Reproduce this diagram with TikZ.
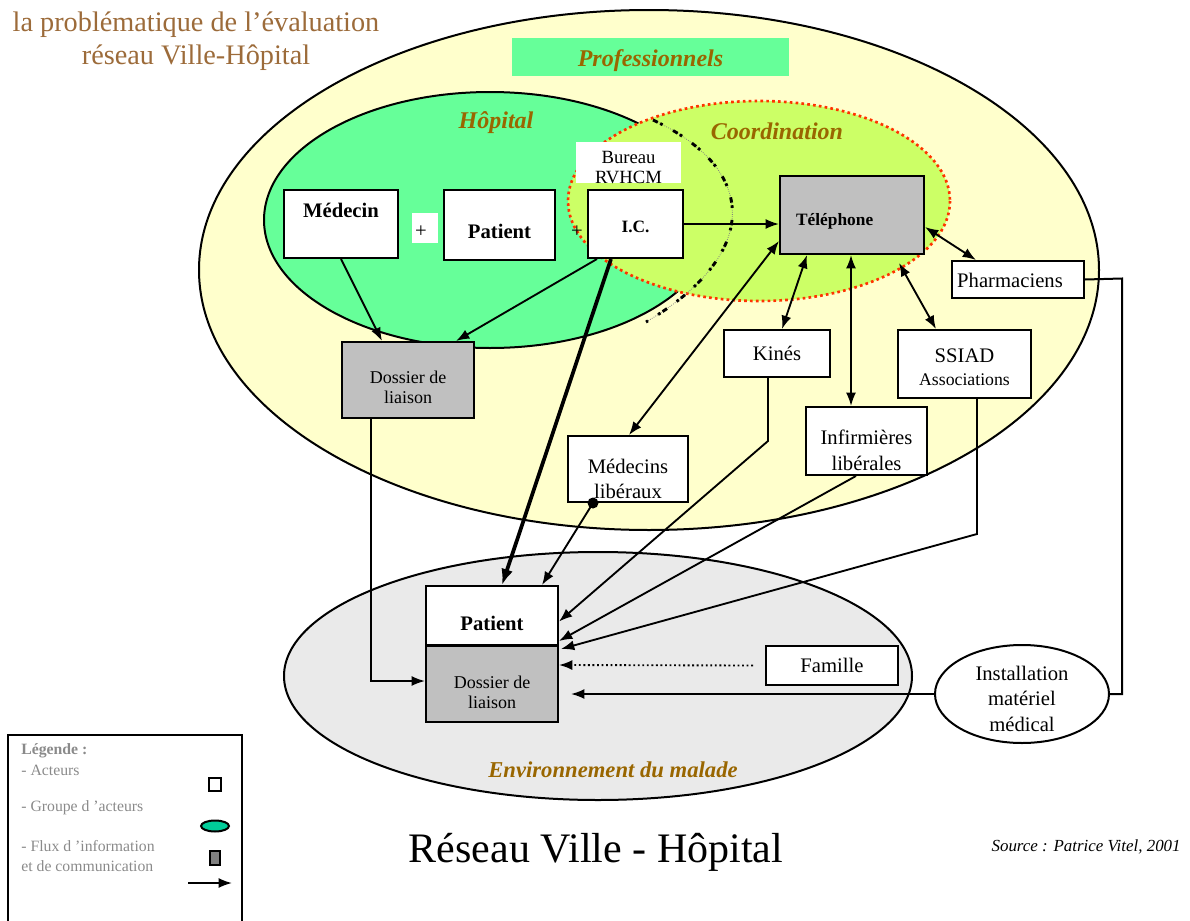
\documentclass[tikz,border=0pt]{standalone}
\usepackage{fontspec}
\setmainfont{Liberation Serif}
\usetikzlibrary{arrows.meta,calc,shapes.geometric}

\definecolor{profyellow}{HTML}{FFFFCC}
\definecolor{hopgreen}{HTML}{66FF99}
\definecolor{coordgreen}{HTML}{CCFF66}
\definecolor{envgray}{HTML}{EAEAEA}
\definecolor{boxgray}{HTML}{C0C0C0}
\definecolor{labelbrown}{HTML}{996600}
\definecolor{titlebrown}{HTML}{9C6B3A}
\definecolor{legendgray}{HTML}{8A8A8A}
\definecolor{legendgreen}{HTML}{00CC99}
\definecolor{dotred}{HTML}{FF3300}

\newcommand{\fs}[2]{\fontsize{#1}{#2}\selectfont}

\begin{document}
\begin{tikzpicture}[x=0.75pt,y=-0.75pt,
  >={Latex[length=10pt,width=7.5pt]},
  line width=1.4pt,
  box/.style 2 args={draw, line width=1.5pt, fill=white,
    minimum width=#1*0.75pt, minimum height=#2*0.75pt, inner sep=0pt},
  txt/.style={align=center, font=\fs{15.5}{19}},
  grouplabel/.style={font=\bfseries\itshape\fs{18}{18}, text=labelbrown},
  flow/.style={->, line width=1.4pt},
  both/.style={<->, line width=1.4pt},
  legendtxt/.style={anchor=west, text=legendgray, font=\fs{11.8}{14.5}, align=left},
]
\useasboundingbox (0,0) rectangle (1190,921);

% ---- title
\node[align=center, text=titlebrown, font=\fs{21.2}{24.5}] (title) at (196,41.5)
  {la problématique de l’évaluation\\réseau Ville-Hôpital};

% ---- group ellipses
\draw[fill=profyellow, line width=1.5pt] (649,270) ellipse [x radius=450, y radius=260];
\draw[fill=envgray, line width=1.5pt] (598,676) ellipse [x radius=314, y radius=124];
\draw[fill=hopgreen, line width=1.5pt] (490,220) ellipse [x radius=226, y radius=128];
\fill[coordgreen] (759,201) ellipse [x radius=191, y radius=100];
\draw[dotred, line width=2pt, dash pattern=on 2pt off 2.4pt] (759,201) ellipse [x radius=191, y radius=100];

% boundary between hospital and coordination
\draw[gray, line width=0.6pt, densely dotted] (653,120) .. controls (760,170) and (760,255) .. (646,322);
\draw[line width=2.2pt, dash pattern=on 4pt off 2pt on 2pt off 9pt] (653,120) .. controls (760,170) and (760,255) .. (646,322);

% ---- group labels
\node[fill=hopgreen, minimum width=277*0.75pt, minimum height=38*0.75pt, inner sep=0pt,
  label={[grouplabel, yshift=-2.5pt]center:Professionnels}] (prof) at (650.5,57) {};
\node[grouplabel] (hop) at (496,123) {Hôpital};
\node[grouplabel] (coord) at (777,131) {Coordination};
\node[grouplabel, font=\bfseries\itshape\fs{17}{17}] (env) at (613,770) {Environnement du malade};

% ---- actors
\node[box={114}{68}, label={[txt, font=\bfseries\fs{15.5}{19}, yshift=10pt]center:Médecin}] (med) at (341,224) {};
\node[fill=white, minimum width=26*0.75pt, minimum height=30*0.75pt, inner sep=0pt,
  label={[font=\fs{15.5}{15.5}, xshift=-3pt, yshift=-3pt]center:+}] (plusa) at (425,228) {};
\node[box={111}{70}, label={[txt, font=\bfseries\fs{15.5}{19}, yshift=-5pt]center:Patient}] (pat1) at (499.5,225) {};
\node[font=\fs{15.5}{15.5}, inner sep=0pt] (plusb) at (577,232) {+};
\node[box={95}{68}, label={[font=\bfseries\fs{13}{13}, yshift=-2pt]center:I.C.}] (ic) at (635.5,224) {};
\node[fill=white, minimum width=105*0.75pt, minimum height=41*0.75pt, inner sep=0pt,
  label={[align=center, font=\fs{14}{15}, yshift=-3.4pt]center:{Bureau\\RVHCM}}] (bur) at (628.5,162.5) {};
\node[box={144}{78}, fill=boxgray,
  label={[font=\bfseries\fs{13}{13}, xshift=-13pt, yshift=-5pt]center:Téléphone}] (tel) at (852,215) {};

\node[box={132}{37}, label={[txt, xshift=-6pt, yshift=-1pt]center:Pharmaciens}] (pha) at (1018,279.5) {};
\node[box={133}{68}, label={[txt, yshift=-2.5pt]center:{SSIAD\\[-2pt]{\fs{13.3}{14}Associations}}}] (ssiad) at (964.5,364) {};
\node[box={106}{47}, label={[txt]center:Kinés}] (kin) at (777,353.5) {};
\node[box={121}{68}, label={[txt, yshift=-7pt]center:{Infirmières\\libérales}}] (inf) at (866.5,441) {};
\node[box={120}{66}, label={[txt, yshift=-7.5pt]center:{Médecins\\libéraux}}] (medlib) at (628,469) {};

\node[box={132}{76}, fill=boxgray,
  label={[txt, font=\fs{13.5}{15}, yshift=-5.6pt]center:{Dossier de\\liaison}}] (dos1) at (408,380) {};

\node[box={132}{59}, label={[txt, font=\bfseries\fs{15.5}{19}, yshift=-5.6pt]center:Patient}] (pat2) at (492,615.5) {};
\node[box={132}{76}, fill=boxgray,
  label={[txt, font=\fs{13.5}{15}, yshift=-6pt]center:{Dossier de\\liaison}}] (dos2) at (492,684) {};
\node[box={132}{39}, label={[txt]center:Famille}] (fam) at (832,665.5) {};
\node[draw, ellipse, line width=1.5pt, fill=white, minimum width=174*0.75pt, minimum height=98*0.75pt,
  inner sep=0pt, label={[txt, yshift=-3.5pt]center:{Installation\\matériel\\médical}}] (inst) at (1022,694) {};

% ---- flows inside the hospital
\draw[flow] ($(med.south west)+(58,0)$) -- ($(dos1.north west)+(41,0)$);
\draw[flow] ($(ic.south west)+(10,0)$) -- ($(dos1.north west)+(115,0)$);
\draw[->, line width=2.8pt, >={Latex[length=12pt,width=9pt]}] ($(ic.south west)+(24,0)$) -- ($(pat2.north west)+(77,0)$);
\draw[flow] (ic.east) -- (ic.east -| tel.west);

% ---- exchanges with the telephone
\draw[both] ($(medlib.north west)+(62,0)$) -- ($(tel.south west)+(0,-14)$);
\draw[both] ($(tel.south west)+(28,0)$) -- ($(kin.north west)+(59,0)$);
\draw[both] ($(tel.south west)+(72,0)$) -- ($(inf.north west)+(46,0)$);
\draw[both] ($(tel.south east)+(-26,8)$) -- ($(ssiad.north west)+(39,0)$);
\draw[both] ($(tel.east)+(0,12)$) -- ($(pha.north west)+(25,0)$);

% ---- flows towards the patient's home
\coordinate (mdot) at ($(medlib.south west)+(26,0)$);
\fill (mdot) circle [radius=5.5];
\draw[flow] (mdot) -- ($(pat2.north west)+(117,0)$);
\draw[flow] (kin.south west) ++(45,0) coordinate (k1) -- ++(0,63) -- ($(pat2.east)+(0,6)$);
\draw[flow] ($(inf.south west)+(51,0)$) -- ($(pat2.south east)+(0,-5)$);
\draw[flow] ($(ssiad.south west)+(80,0)$) -- ++(0,135) -- ($(dos2.north east)+(2,4)$);
\draw[->, line width=1.4pt, dotted] ($(fam.west)+(-12,0)$) -- ($(dos2.east)+(0,-19)$);
\draw[line width=1.5pt] (pha.east) -- ++(37,-1) |- (inst.east);
\draw[flow] (inst.west) -- ($(dos2.east)+(12,10)$);
\draw[flow] ($(dos1.south west)+(30,0)$) |- ($(dos2.west)+(0,-3)$);

% ---- caption and source
\node[font=\fs{31.5}{32}] (cap) at (596,852) {Réseau Ville - Hôpital};
\node[font=\itshape\fs{12.7}{13}, anchor=east] (src) at (1186,847) {Source : Patrice Vitel, 2001};

% ---- legend
\draw[line width=1.5pt] (8,735) rectangle (242,935);
\node[legendtxt, font=\bfseries\fs{11.8}{14.5}] (lg0) at (16,751) {Légende :};
\node[legendtxt] (lg1) at (16,770) {- Acteurs};
\node[legendtxt] (lg2) at (16,808) {- Groupe d ’acteurs};
\node[legendtxt] (lg3) at (16,856) {- Flux d ’information\\et de communication};
\node[draw, line width=1.5pt, fill=white, minimum width=12*0.75pt, minimum height=13*0.75pt, inner sep=0pt] (lgbox) at (215,784.5) {};
\node[draw, ellipse, line width=1.5pt, fill=legendgreen, minimum width=28*0.75pt, minimum height=11*0.75pt, inner sep=0pt] (lgell) at (215,826) {};
\node[draw, line width=1.5pt, fill=gray, minimum width=10*0.75pt, minimum height=14*0.75pt, inner sep=0pt] (lggray) at (215,857.5) {};
\coordinate (lga) at (188,883);
\coordinate (lgb) at (232,883);
\draw[flow] (lga) -- (lgb);
\end{tikzpicture}
\end{document}
